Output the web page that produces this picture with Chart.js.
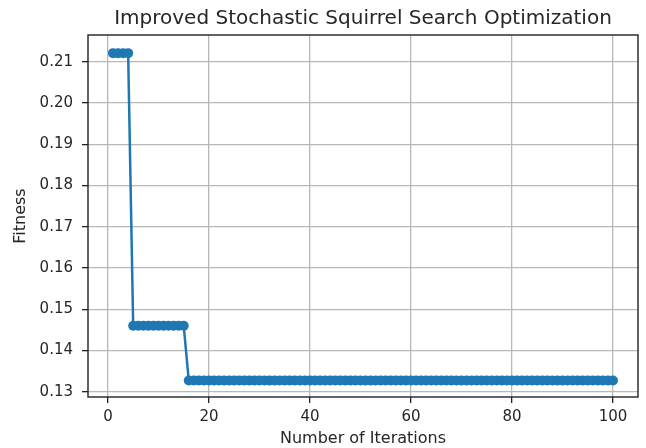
<!DOCTYPE html>
<html>
<head>
<meta charset="utf-8">
<script src="https://cdn.jsdelivr.net/npm/chart.js@4/dist/chart.umd.min.js"></script>
<style>
	html, body { margin: 0; padding: 0; background: #fff; }
	#wrap { width: 646px; height: 448px; }
</style>
</head>
<body>
<div id="wrap"><canvas id="chart" width="646" height="448"></canvas></div>
<script>
const TITLE = 'Improved Stochastic Squirrel Search Optimization'
const X_LABEL = 'Number of Iterations'
const Y_LABEL = 'Fitness'

const iterations = [
	1, 2, 3, 4, 5, 6, 7, 8, 9, 10,
	11, 12, 13, 14, 15, 16, 17, 18, 19, 20,
	21, 22, 23, 24, 25, 26, 27, 28, 29, 30,
	31, 32, 33, 34, 35, 36, 37, 38, 39, 40,
	41, 42, 43, 44, 45, 46, 47, 48, 49, 50,
	51, 52, 53, 54, 55, 56, 57, 58, 59, 60,
	61, 62, 63, 64, 65, 66, 67, 68, 69, 70,
	71, 72, 73, 74, 75, 76, 77, 78, 79, 80,
	81, 82, 83, 84, 85, 86, 87, 88, 89, 90,
	91, 92, 93, 94, 95, 96, 97, 98, 99, 100
]

const fitness = [
	0.2121, 0.2121, 0.2121, 0.2121, 0.1460, 0.1460, 0.1460, 0.1460, 0.1460, 0.1460,
	0.1460, 0.1460, 0.1460, 0.1460, 0.1460, 0.1327, 0.1327, 0.1327, 0.1327, 0.1327,
	0.1327, 0.1327, 0.1327, 0.1327, 0.1327, 0.1327, 0.1327, 0.1327, 0.1327, 0.1327,
	0.1327, 0.1327, 0.1327, 0.1327, 0.1327, 0.1327, 0.1327, 0.1327, 0.1327, 0.1327,
	0.1327, 0.1327, 0.1327, 0.1327, 0.1327, 0.1327, 0.1327, 0.1327, 0.1327, 0.1327,
	0.1327, 0.1327, 0.1327, 0.1327, 0.1327, 0.1327, 0.1327, 0.1327, 0.1327, 0.1327,
	0.1327, 0.1327, 0.1327, 0.1327, 0.1327, 0.1327, 0.1327, 0.1327, 0.1327, 0.1327,
	0.1327, 0.1327, 0.1327, 0.1327, 0.1327, 0.1327, 0.1327, 0.1327, 0.1327, 0.1327,
	0.1327, 0.1327, 0.1327, 0.1327, 0.1327, 0.1327, 0.1327, 0.1327, 0.1327, 0.1327,
	0.1327, 0.1327, 0.1327, 0.1327, 0.1327, 0.1327, 0.1327, 0.1327, 0.1327, 0.1327
]

const X_MIN = -3.95
const X_MAX = 104.95
const Y_MIN = 0.1287
const Y_MAX = 0.2165

const FONT = 'DejaVu Sans'
const TEXT = '#262626'
const BLUE = '#1f77b4'

// Frame and title, drawn like matplotlib does

const framePlugin = {
	id: 'frame',
	afterDraw(chart) {
		const ctx = chart.ctx
		const a = chart.chartArea
		ctx.save()
		ctx.strokeStyle = '#222'
		ctx.lineWidth = 1.4
		ctx.strokeRect(a.left, a.top, a.right - a.left, a.bottom - a.top)
		ctx.fillStyle = TEXT
		ctx.font = '20px "' + FONT + '"'
		ctx.textAlign = 'center'
		ctx.textBaseline = 'middle'
		ctx.fillText(TITLE, (a.left + a.right) / 2, 19)
		ctx.restore()
	}
}

const points = iterations.map((x, i) => ({ x: x, y: fitness[i] }))

new Chart(document.getElementById('chart'), {
	type: 'line',
	data: {
		datasets: [{
			data: points,
			borderColor: BLUE,
			backgroundColor: BLUE,
			borderWidth: 2.5,
			pointRadius: 5,
			pointBorderWidth: 0,
			pointBackgroundColor: BLUE,
			tension: 0
		}]
	},
	options: {
		responsive: false,
		animation: false,
		devicePixelRatio: 1,
		layout: { padding: { top: 35, right: 8, left: 0, bottom: 0 } },
		plugins: {
			legend: { display: false },
			tooltip: { enabled: false }
		},
		scales: {
			x: {
				type: 'linear',
				min: X_MIN,
				max: X_MAX,
				afterFit(axis) { axis.height = 51 },
				ticks: {
					stepSize: 20,
					includeBounds: false,
					color: TEXT,
					font: { family: FONT, size: 15 },
					padding: 5,
					maxRotation: 0
				},
				grid: {
					color: '#b8b8b8',
					lineWidth: 1.3,
					tickColor: '#222',
					tickLength: 6,
					drawTicks: true
				},
				border: { display: false },
				title: {
					display: true,
					text: X_LABEL,
					color: TEXT,
					font: { family: FONT, size: 16 },
					padding: 0
				}
			},
			y: {
				type: 'linear',
				min: Y_MIN,
				max: Y_MAX,
				afterFit(axis) { axis.width = 88 },
				ticks: {
					stepSize: 0.01,
					includeBounds: false,
					color: TEXT,
					font: { family: FONT, size: 15 },
					padding: 9,
					callback: v => v.toFixed(2)
				},
				grid: {
					color: '#b8b8b8',
					lineWidth: 1.3,
					tickColor: '#222',
					tickLength: 6
				},
				border: { display: false },
				title: {
					display: true,
					text: Y_LABEL,
					color: TEXT,
					font: { family: FONT, size: 16 },
					padding: { top: 11, bottom: 0 }
				}
			}
		}
	},
	plugins: [framePlugin]
})
</script>
</body>
</html>
